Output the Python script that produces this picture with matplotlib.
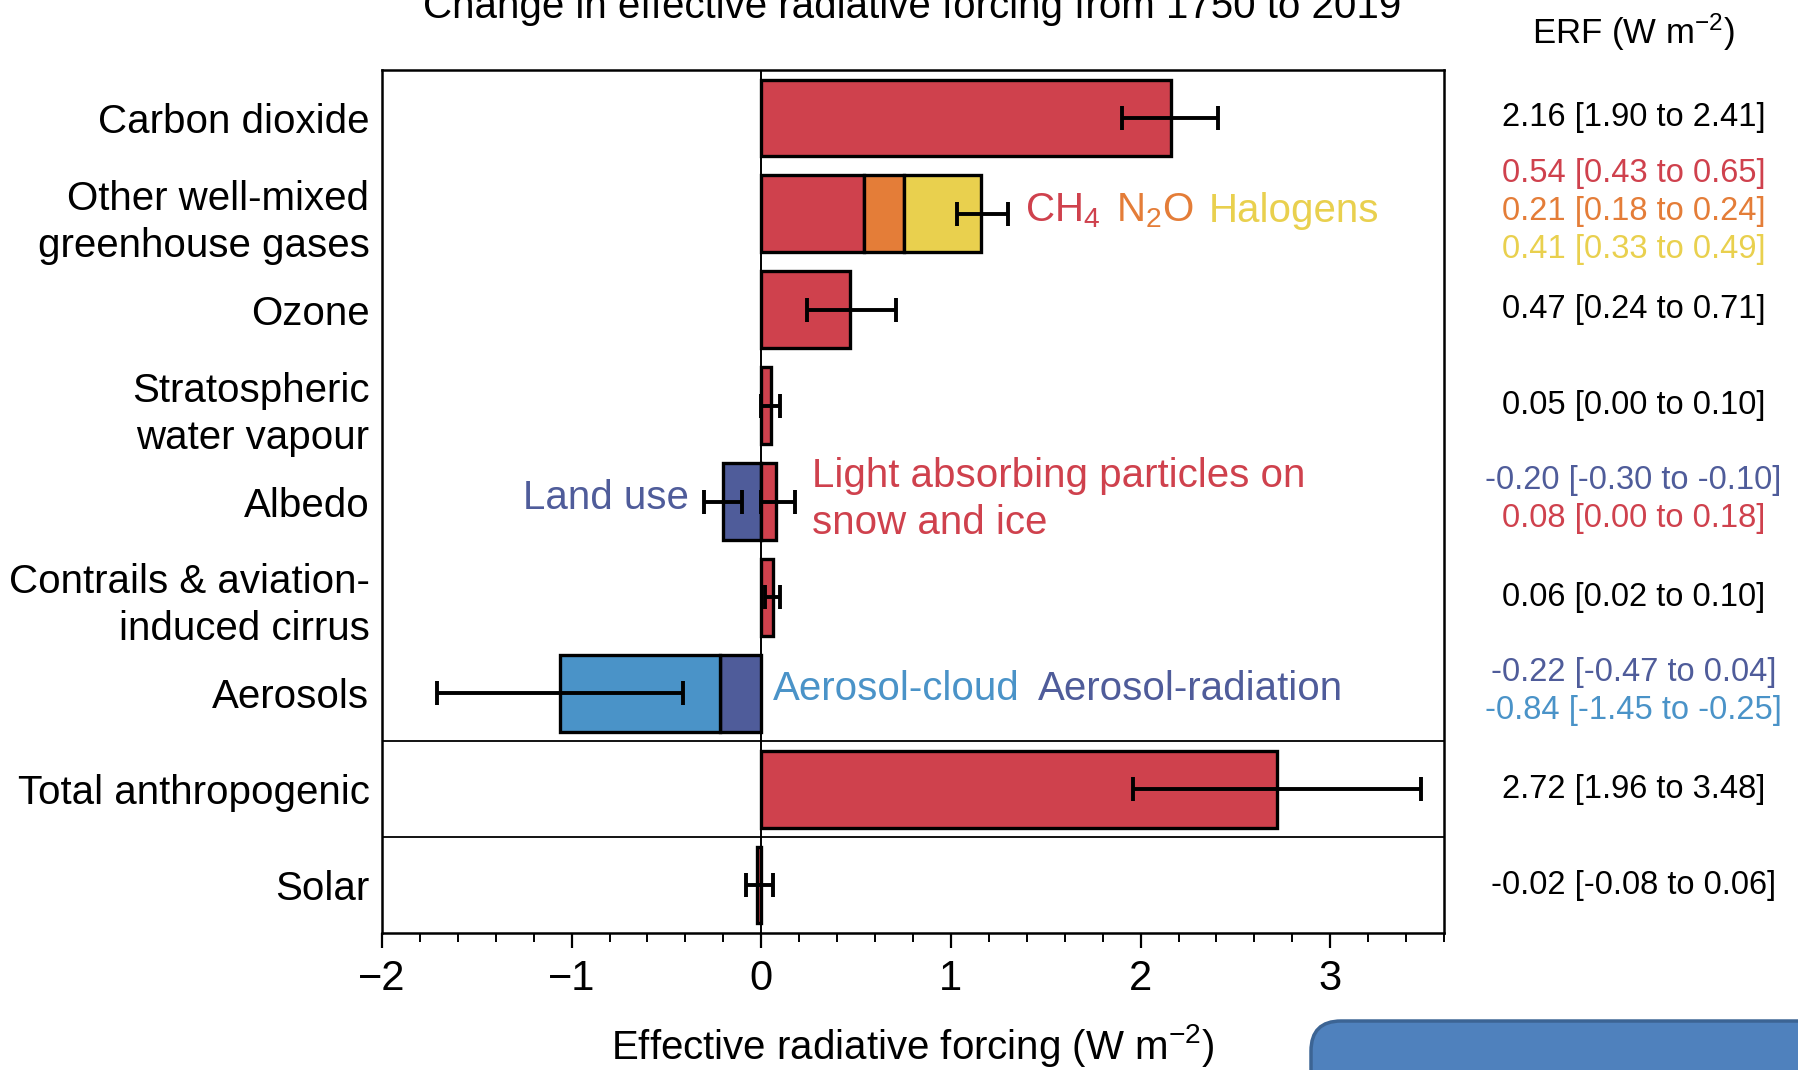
import matplotlib
matplotlib.use('Agg')
import matplotlib.pyplot as plt
from matplotlib.patches import FancyBboxPatch
from matplotlib.transforms import IdentityTransform, blended_transform_factory
from matplotlib.ticker import MultipleLocator

plt.rcParams['font.family'] = ['Liberation Sans', 'DejaVu Sans']
plt.rcParams['mathtext.default'] = 'regular'

# 强迫因子类别（从上到下）
categories = ['Carbon dioxide', 'Other well-mixed\ngreenhouse gases', 'Ozone',
              'Stratospheric\nwater vapour', 'Albedo', 'Contrails & aviation-\ninduced cirrus',
              'Aerosols', 'Total anthropogenic', 'Solar']

# 单一分量：行号, 最佳估计, 下限, 上限
single_rows = [0, 2, 3, 5, 7, 8]
single_erf = [2.16, 0.47, 0.05, 0.06, 2.72, -0.02]
single_lo = [1.90, 0.24, 0.00, 0.02, 1.96, -0.08]
single_hi = [2.41, 0.71, 0.10, 0.10, 3.48, 0.06]

# 其他充分混合温室气体：CH4, N2O, 卤代烃
ghg_erf = [0.54, 0.21, 0.41]
ghg_lo = [0.43, 0.18, 0.33]
ghg_hi = [0.65, 0.24, 0.49]
ghg_total_range = [1.03, 1.30]

# 反照率：土地利用, 雪冰上的吸光颗粒
albedo_erf = [-0.20, 0.08]
albedo_lo = [-0.30, 0.00]
albedo_hi = [-0.10, 0.18]

# 气溶胶：气溶胶-辐射, 气溶胶-云
aer_erf = [-0.22, -0.84]
aer_lo = [-0.47, -1.45]
aer_hi = [0.04, -0.25]
aer_total_range = [-1.71, -0.41]

RED = '#CF414D'
ORANGE = '#E47D38'
YELLOW = '#E9D04E'
DBLUE = '#4F5C9A'
LBLUE = '#4A93C8'

FS = 29      # 标签与注释字号
FS_VAL = 23.5

fig = plt.figure(figsize=(17.99, 10.70), dpi=100)
ax = fig.add_axes([0.2123, 0.128, 0.5904, 0.8066])

bar_kw = dict(height=0.8, edgecolor='black', linewidth=2.4, zorder=3)
err_kw = dict(fmt='none', ecolor='black', elinewidth=2.8, capsize=8.5, capthick=2.8, zorder=4)

ax.axvline(0, color='black', linewidth=1.4, zorder=1)

# 单一分量
for r, v, lo, hi in zip(single_rows, single_erf, single_lo, single_hi):
    ax.barh(r, v, color=RED, **bar_kw)
    ax.errorbar(v, r, xerr=[[v - lo], [hi - v]], **err_kw)

# 温室气体堆叠
left = 0
for v, c in zip(ghg_erf, [RED, ORANGE, YELLOW]):
    ax.barh(1, v, left=left, color=c, **bar_kw)
    left += v
ax.errorbar(left, 1, xerr=[[left - ghg_total_range[0]], [ghg_total_range[1] - left]], **err_kw)

# 反照率
for v, lo, hi, c in zip(albedo_erf, albedo_lo, albedo_hi, [DBLUE, RED]):
    ax.barh(4, v, color=c, **bar_kw)
    ax.errorbar(v, 4, xerr=[[v - lo], [hi - v]], **err_kw)

# 气溶胶堆叠
left = 0
for v, c in zip(aer_erf, [DBLUE, LBLUE]):
    ax.barh(6, v, left=left, color=c, **bar_kw)
    left += v
ax.errorbar(left, 6, xerr=[[left - aer_total_range[0]], [aer_total_range[1] - left]], **err_kw)

ax.axhline(6.5, color='black', linewidth=1.3, zorder=2)
ax.axhline(7.5, color='black', linewidth=1.3, zorder=2)

ax.set_xlim(-2, 3.6)
ax.set_ylim(8.5, -0.5)
ax.set_yticks(range(len(categories)))
ax.set_yticklabels(categories, fontsize=FS, linespacing=1.3)
ax.tick_params(axis='y', length=0, pad=9)
ax.xaxis.set_major_locator(MultipleLocator(1))
ax.xaxis.set_minor_locator(MultipleLocator(0.2))
ax.tick_params(axis='x', which='major', length=11, width=1.6, labelsize=30, pad=8)
ax.tick_params(axis='x', which='minor', length=6.5, width=1.4)
ax.set_xticklabels([f'{t:g}'.replace('-', '\u2212') for t in ax.get_xticks()])
for s in ax.spines.values():
    s.set_linewidth(1.8)

ax.set_xlabel('Effective radiative forcing (W m$^{-2}$)', fontsize=FS, labelpad=16)
fig.text(0.507, 0.993, 'Change in effective radiative forcing from 1750 to 2019',
         ha='center', va='center', fontsize=FS)

# 图中注释
ax.text(1.39, 0.97, 'CH$_4$', color=RED, fontsize=FS, va='center')
ax.text(1.87, 0.97, 'N$_2$O', color=ORANGE, fontsize=FS, va='center')
ax.text(2.36, 0.97, 'Halogens', color=YELLOW, fontsize=FS, va='center')
ax.text(-0.38, 3.96, 'Land use', color=DBLUE, fontsize=FS, va='center', ha='right')
ax.text(0.27, 3.98, 'Light absorbing particles on\nsnow and ice', color=RED, fontsize=FS,
        va='center', ha='left', linespacing=1.3)
ax.text(0.06, 5.96, 'Aerosol-cloud', color=LBLUE, fontsize=FS, va='center')
ax.text(1.46, 5.96, 'Aerosol-radiation', color=DBLUE, fontsize=FS, va='center')

# 右侧数值列
tr = blended_transform_factory(fig.transFigure, ax.transData)
xc = 0.908


def fmt(v, lo, hi):
    return f'{v:.2f} [{lo:.2f} to {hi:.2f}]'


fig.text(xc, 0.97, 'ERF (W m$^{-2}$)', ha='center', va='center', fontsize=25)
for r, v, lo, hi in zip(single_rows, single_erf, single_lo, single_hi):
    fig.text(xc, r, fmt(v, lo, hi), transform=tr, ha='center', va='center', fontsize=FS_VAL)
for dy, v, lo, hi, c in zip([-0.42, -0.02, 0.37], ghg_erf, ghg_lo, ghg_hi, [RED, ORANGE, YELLOW]):
    fig.text(xc, 1 + dy, fmt(v, lo, hi), transform=tr, ha='center', va='center', fontsize=FS_VAL, color=c)
for dy, v, lo, hi, c in zip([-0.22, 0.18], albedo_erf, albedo_lo, albedo_hi, [DBLUE, RED]):
    fig.text(xc, 4 + dy, fmt(v, lo, hi), transform=tr, ha='center', va='center', fontsize=FS_VAL, color=c)
for dy, v, lo, hi, c in zip([-0.22, 0.18], aer_erf, aer_lo, aer_hi, [DBLUE, LBLUE]):
    fig.text(xc, 6 + dy, fmt(v, lo, hi), transform=tr, ha='center', va='center', fontsize=FS_VAL, color=c)

# 右下角的蓝色圆角框
box = FancyBboxPatch((1311, -80), 700, 129, boxstyle='round,pad=0,rounding_size=30',
                     facecolor='#4F81BD', edgecolor='#3C6494', linewidth=2.5,
                     transform=IdentityTransform())
fig.add_artist(box)

fig.savefig('out.png', dpi=100)
